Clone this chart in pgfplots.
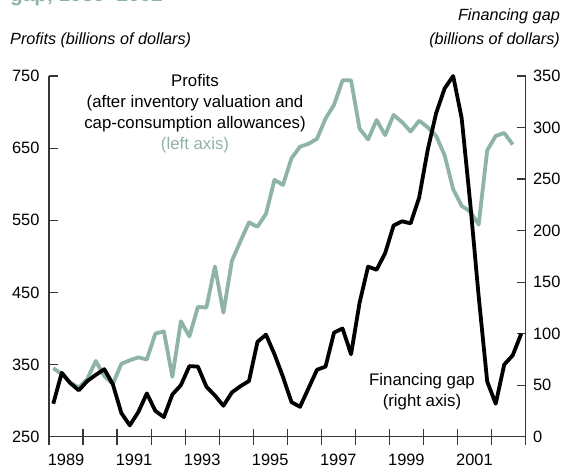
\documentclass[border=0pt]{standalone}
\usepackage{fontspec}
\setmainfont{Liberation Sans}
\usepackage{pgfplots}
\usepackage{pgfplotstable}
\pgfplotsset{compat=1.18}

\definecolor{sage}{RGB}{141,180,166}
\definecolor{axisgray}{RGB}{55,55,55}

% quarterly, plotted at mid-quarter
\pgfplotstableread{
x p
1989.125 345
1989.375 337
1989.625 325
1989.875 318
1990.125 330
1990.375 355
1990.625 334
1990.875 323
1991.125 351
1991.375 356
1991.625 360
1991.875 357
1992.125 393
1992.375 396
1992.625 333
1992.875 410
1993.125 389
1993.375 430
1993.625 429
1993.875 486
1994.125 422
1994.375 494
1994.625 521
1994.875 547
1995.125 541
1995.375 559
1995.625 606
1995.875 599
1996.125 636
1996.375 652
1996.625 656
1996.875 663
1997.125 691
1997.375 710
1997.625 744
1997.875 744
1998.125 677
1998.375 662
1998.625 689
1998.875 668
1999.125 696
1999.375 686
1999.625 673
1999.875 688
2000.125 679
2000.375 667
2000.625 640
2000.875 593
2001.125 570
2001.375 562
2001.625 544
2001.875 647
2002.125 667
2002.375 671
2002.625 655
}\profits

\pgfplotstableread{
x g
1989.125 32
1989.375 62
1989.625 52
1989.875 45
1990.125 54
1990.375 60
1990.625 65.5
1990.875 51
1991.125 23
1991.375 11
1991.625 24
1991.875 42
1992.125 25
1992.375 19
1992.625 41
1992.875 50
1993.125 68.5
1993.375 68
1993.625 48.5
1993.875 40
1994.125 30
1994.375 43
1994.625 49
1994.875 54
1995.125 92
1995.375 99
1995.625 80
1995.875 58
1996.125 33.5
1996.375 29
1996.625 47
1996.875 65
1997.125 68
1997.375 101
1997.625 105
1997.875 80
1998.125 130
1998.375 165
1998.625 162
1998.875 178
1999.125 205
1999.375 209
1999.625 207
1999.875 232
2000.125 278
2000.375 314
2000.625 338
2000.875 350
2001.125 309
2001.375 227
2001.625 136
2001.875 53.5
2002.125 32
2002.375 70
2002.625 79
2002.875 100
}\gap

\begin{document}
\begin{tikzpicture}[x=1pt,y=1pt]
\path[use as bounding box] (0,0) rectangle (566,472);

\pgfplotsset{
  base/.style={
    at={(49pt,35.3pt)}, anchor=south west,
    scale only axis, width=476.5pt, height=360.7pt,
    xmin=1989, xmax=2003, clip=false,
    axis line style={axisgray, line width=1.2pt},
    tick style={axisgray, line width=1.2pt},
    tick label style={font=\fontsize{16.4}{18}\selectfont},
    /pgf/number format/assume math mode=true,
    /pgf/number format/1000 sep={},
  },
}

% profits, left axis
\begin{axis}[base,
    ymin=250, ymax=750,
    axis y line*=left, axis x line=none,
    ytick={250,350,...,750},
    tick align=inside, major tick length=9pt,
    yticklabel style={xshift=-6pt},
]
\addplot[sage, line width=3.8pt, line join=round] table[x=x,y=p] {\profits};
\end{axis}

% financing gap, right axis
\begin{axis}[base,
    ymin=0, ymax=350,
    axis y line*=right, axis x line=none,
    ytick={0,50,...,350},
    tick align=inside, major tick length=8.5pt,
    yticklabel style={xshift=4pt},
]
\addplot[black, line width=3.8pt, line join=round] table[x=x,y=g] {\gap};
\end{axis}

% years along the bottom: labels mid-year, tick marks at year boundaries
\begin{axis}[base,
    ymin=0, ymax=1,
    axis x line*=bottom, axis y line=none,
    xtick={1989.5,1991.5,1993.5,1995.5,1997.5,1999.5,2001.5},
    xticklabels={1989,1991,1993,1995,1997,1999,2001},
    tick align=center, major tick length=0pt,
    xticklabel style={yshift=-14pt},
    extra x ticks={1989,1990,...,2003},
    extra x tick labels={,,,,,,,,,,,,,,,},
    extra x tick style={major tick length=16pt, tick align=center},
]
\end{axis}

\node[anchor=base west, inner sep=0, text=sage,
      font=\fontsize{20.8}{24}\bfseries\selectfont] at (10,470) {gap, 1989–2002};
\node[anchor=west, inner sep=0, font=\fontsize{16.2}{19}\itshape\selectfont]
  at (10,432) {Profits (billions of dollars)};
\node[anchor=base east, inner sep=0, font=\fontsize{16.2}{19}\itshape\selectfont]
  at (560,451) {Financing gap};
\node[anchor=base east, inner sep=0, font=\fontsize{16.2}{19}\itshape\selectfont]
  at (560,427) {(billions of dollars)};

\begin{scope}[every node/.style={anchor=base, inner sep=0, font=\fontsize{16.8}{19}\selectfont}]
\node at (195,385.3) {Profits};
\node at (195,364.2) {(after inventory valuation and};
\node at (195,343.2) {cap-consumption allowances)};
\node[text=sage] at (195,322.2) {(left axis)};
\node at (422,86.3) {Financing gap};
\node at (422,65.3) {(right axis)};
\end{scope}
\end{tikzpicture}
\end{document}
